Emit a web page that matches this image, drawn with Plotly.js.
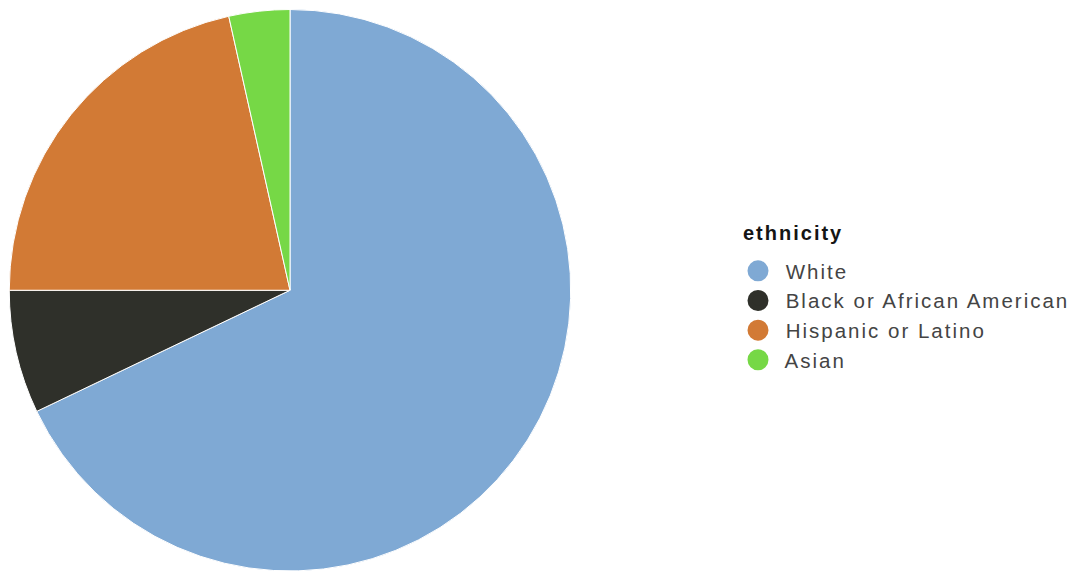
<!DOCTYPE html>
<html>
<head>
<meta charset="utf-8">
<script src="https://cdn.plot.ly/plotly-3.0.1.min.js"></script>
<style>
html,body{margin:0;padding:0;background:#fff;}
#chart{width:1085px;height:571px;}
.legendtext{letter-spacing:2px;}
.annotation-text{letter-spacing:2px;}
</style>
</head>
<body>
<div id="chart"></div>
<script>
var categories = ["White", "Black or African American", "Hispanic or Latino", "Asian"];
var shares = [67.9, 7.1, 21.5, 3.5];
var colors = ["#7fa9d4", "#2f302a", "#d27a35", "#76d846"];
var legendTitle = "ethnicity";

var W = 1085, H = 571;
var traces = [{
  type: "pie",
  labels: categories,
  values: shares,
  sort: false,
  direction: "clockwise",
  rotation: 0,
  textinfo: "none",
  hoverinfo: "label+percent",
  marker: {colors: colors, line: {color: "#ffffff", width: 1}},
  showlegend: false,
  domain: {x: [9 / W, 571 / W], y: [0, 1 - 9.5 / H]}
}];
categories.forEach(function (c, i) {
  traces.push({
    type: "scatter", mode: "markers", x: [null], y: [null],
    name: " " + c,
    marker: {color: colors[i], size: 16, symbol: "circle", line: {color: colors[i], width: 8}},
    hoverinfo: "skip", showlegend: true
  });
});

var layout = {
  width: W, height: H,
  margin: {l: 0, r: 0, t: 0, b: 0},
  paper_bgcolor: "#ffffff", plot_bgcolor: "#ffffff",
  xaxis: {visible: false}, yaxis: {visible: false},
  font: {family: "Liberation Sans, Arial, sans-serif", color: "#444444"},
  legend: {
    x: 738 / W, xanchor: "left", y: 1 - 251 / H, yanchor: "top",
    bgcolor: "rgba(0,0,0,0)",
    font: {size: 20.5, color: "#444444", family: "Liberation Sans, Arial, sans-serif"},
    tracegroupgap: 0
  },
  annotations: [{
    text: "<b>" + legendTitle + "</b>",
    xref: "paper", yref: "paper",
    x: 741 / W, y: 1 - 233 / H, xanchor: "left", yanchor: "middle",
    showarrow: false,
    font: {size: 20, color: "#151515", family: "Liberation Sans, Arial, sans-serif"}
  }]
};
Plotly.newPlot("chart", traces, layout, {displayModeBar: false, staticPlot: true});
</script>
</body>
</html>
